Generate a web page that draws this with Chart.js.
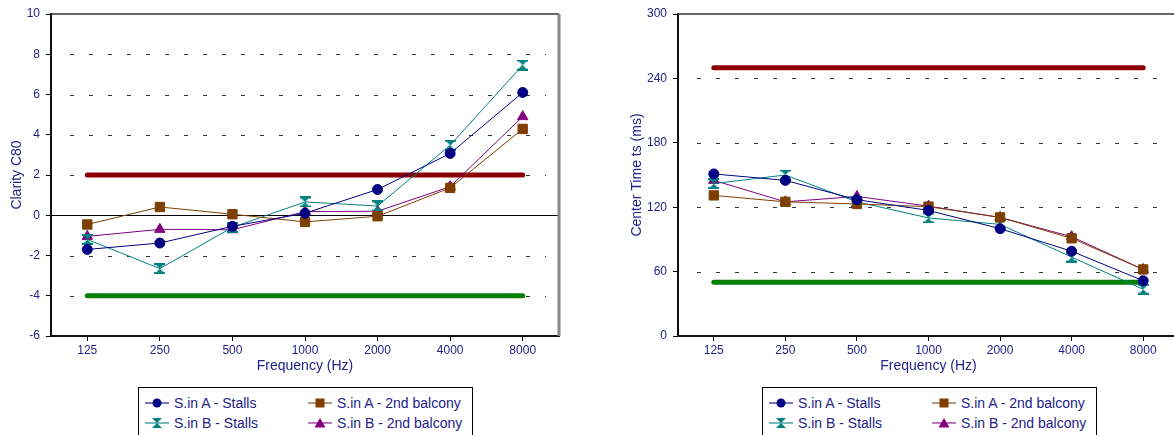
<!DOCTYPE html>
<html>
<head>
<meta charset="utf-8">
<script src="https://cdn.jsdelivr.net/npm/chart.js@4.4.1/dist/chart.umd.min.js"></script>
<style>
  html, body { margin: 0; padding: 0; background: #fff; }
  body { width: 1174px; height: 435px; overflow: hidden; position: relative; font-family: "Liberation Sans", Arial, sans-serif; }
  .chart-box { position: absolute; top: 0; width: 575px; height: 375px; }
  .legend { position: absolute; top: 387px; width: 333px; height: 60px; border: 1px solid #000; background: #fff; }
  .legend-item { position: absolute; height: 20px; display: flex; align-items: center; font-size: 14px; color: #22228a; white-space: nowrap; }
  .legend-item svg { margin-right: 5px; }
</style>
</head>
<body>
<div class="chart-box" style="left:0px"><canvas id="c80-chart"></canvas></div>
<div class="chart-box" style="left:620px"><canvas id="ts-chart"></canvas></div>
<div class="legend" id="c80-legend" style="left:138px"></div>
<div class="legend" id="ts-legend" style="left:762px"></div>
<script>
const FREQUENCIES = ["125", "250", "500", "1000", "2000", "4000", "8000"];

const SERIES_NAMES = [
  "S.in A - Stalls",
  "S.in A - 2nd balcony",
  "S.in B - Stalls",
  "S.in B - 2nd balcony",
];

// Clarity C80 (dB)
const C80_A_STALLS = [-1.7, -1.38, -0.55, 0.1, 1.28, 3.07, 6.1];
const C80_A_BALCONY = [-0.46, 0.41, 0.05, -0.33, -0.05, 1.36, 4.29];
const C80_B_STALLS = [-1.2, -2.65, -0.6, 0.66, 0.46, 3.48, 7.46];
const C80_B_BALCONY = [-1.05, -0.7, -0.72, 0.18, 0.2, 1.42, 4.9];
const C80_LIMIT_HIGH = [2, 2, 2, 2, 2, 2, 2];
const C80_LIMIT_LOW = [-4, -4, -4, -4, -4, -4, -4];
const C80_AXIS = { min: -6, max: 10, step: 2 };

// Centre time ts (ms)
const TS_A_STALLS = [151, 145, 127, 117, 100, 79, 51.5];
const TS_A_BALCONY = [131, 125, 123, 120.5, 110.5, 91, 62];
const TS_B_STALLS = [142, 150, 125, 110, 104, 73.5, 43.5];
const TS_B_BALCONY = [145, 125, 130, 121, 110.5, 92.5, 62];
const TS_LIMIT_HIGH = [250, 250, 250, 250, 250, 250, 250];
const TS_LIMIT_LOW = [50, 50, 50, 50, 50, 50, 50];
const TS_AXIS = { min: 0, max: 300, step: 60 };

const COLORS = ["#000080", "#7f3f00", "#008080", "#800080"];
const TEXT_COLOR = "#22228a";
const FONT = "'Liberation Sans', Arial, sans-serif";

function makeHourglass(color, size) {
  const canvas = document.createElement("canvas");
  canvas.width = size;
  canvas.height = size;
  const ctx = canvas.getContext("2d");
  ctx.fillStyle = color;
  ctx.beginPath();
  ctx.moveTo(0, 0);
  ctx.lineTo(size, 0);
  ctx.lineTo(size / 2, size / 2);
  ctx.closePath();
  ctx.moveTo(0, size);
  ctx.lineTo(size, size);
  ctx.lineTo(size / 2, size / 2);
  ctx.closePath();
  ctx.fill();
  ctx.fillRect(0, 0, size, 2);
  ctx.fillRect(0, size - 2, size, 2);
  return canvas;
}

const POINT_STYLES = [
  { pointStyle: "circle", pointRadius: 5 },
  { pointStyle: "rect", pointRadius: 6.6 },
  { pointStyle: makeHourglass(COLORS[2], 11), pointRadius: 6 },
  { pointStyle: "triangle", pointRadius: 6 },
];

const frameAndGridPlugin = {
  id: "frameAndGrid",
  beforeDatasetsDraw(chart) {
    const { ctx, chartArea } = chart;
    const yScale = chart.scales.y;
    ctx.save();
    for (const tick of yScale.ticks) {
      const value = tick.value;
      if (value === yScale.min || value === yScale.max) {
        continue;
      }
      const py = Math.round(yScale.getPixelForValue(value)) + 0.5;
      ctx.beginPath();
      if (value === 0) {
        ctx.setLineDash([]);
        ctx.strokeStyle = "#000";
        ctx.lineWidth = 1;
        ctx.moveTo(chartArea.left, py);
        ctx.lineTo(chartArea.right, py);
      } else {
        ctx.setLineDash([4, 15]);
        ctx.strokeStyle = "#333";
        ctx.lineWidth = 1;
        ctx.moveTo(chartArea.left + 19, py);
        ctx.lineTo(chartArea.right - 13, py);
      }
      ctx.stroke();
    }
    ctx.setLineDash([]);
    ctx.strokeStyle = "#333";
    ctx.lineWidth = 1.5;
    ctx.beginPath();
    ctx.moveTo(chartArea.left, chartArea.top);
    ctx.lineTo(chartArea.right, chartArea.top);
    ctx.stroke();
    ctx.strokeStyle = "#888";
    ctx.lineWidth = 3;
    ctx.beginPath();
    ctx.moveTo(chartArea.right, chartArea.top);
    ctx.lineTo(chartArea.right, chartArea.bottom);
    ctx.stroke();
    ctx.restore();
  },
};

function seriesDataset(index, values) {
  return {
    label: SERIES_NAMES[index],
    data: values,
    borderColor: COLORS[index],
    backgroundColor: COLORS[index],
    pointBackgroundColor: COLORS[index],
    pointBorderColor: COLORS[index],
    pointBorderWidth: 1,
    borderWidth: 1,
    tension: 0,
    ...POINT_STYLES[index],
  };
}

function limitDataset(values, color) {
  return {
    label: "",
    data: values,
    borderColor: color,
    backgroundColor: color,
    borderWidth: 5,
    borderCapStyle: "round",
    pointRadius: 0,
    tension: 0,
  };
}

function buildChart(canvasId, yTitle, axis, seriesList, limitHigh, limitLow, yWidth) {
  return new Chart(document.getElementById(canvasId), {
    type: "line",
    data: {
      labels: FREQUENCIES,
      datasets: [
        ...seriesList.map((values, i) => seriesDataset(i, values)),
        limitDataset(limitHigh, "#8b0000"),
        limitDataset(limitLow, "#008000"),
      ],
    },
    options: {
      responsive: true,
      maintainAspectRatio: false,
      animation: false,
      layout: { padding: { top: 14, right: 16, bottom: 0, left: 0 } },
      plugins: { legend: { display: false }, tooltip: { enabled: false } },
      scales: {
        x: {
          type: "category",
          offset: true,
          afterFit: (scale) => { scale.height = 39; },
          grid: { offset: false, drawOnChartArea: false, drawTicks: true, tickLength: 5, color: "#000" },
          border: { display: true, color: "#111", width: 2 },
          ticks: { color: TEXT_COLOR, font: { family: FONT, size: 12 }, padding: 2, maxRotation: 0 },
          title: { display: true, text: "Frequency (Hz)", color: TEXT_COLOR, font: { family: FONT, size: 14 }, padding: { top: 0, bottom: 0 } },
        },
        y: {
          min: axis.min,
          max: axis.max,
          afterFit: (scale) => { scale.width = yWidth; },
          grid: { drawOnChartArea: false, drawTicks: true, tickLength: 5, color: "#000" },
          border: { display: true, color: "#111", width: 2 },
          ticks: { stepSize: axis.step, color: TEXT_COLOR, font: { family: FONT, size: 12 }, padding: 6 },
          title: { display: true, text: yTitle, color: TEXT_COLOR, font: { family: FONT, size: 14 }, padding: { top: 8.6, bottom: 0 } },
        },
      },
    },
    plugins: [frameAndGridPlugin],
  });
}

function markerSvg(index) {
  const color = COLORS[index];
  let shape = "";
  if (index === 0) {
    shape = `<circle cx="12" cy="6" r="4.5" fill="${color}"/>`;
  } else if (index === 1) {
    shape = `<rect x="7.5" y="1.5" width="9" height="9" fill="${color}"/>`;
  } else if (index === 2) {
    shape = `<polygon points="7,1 17,1 12,6 17,11 7,11 12,6" fill="${color}"/>`;
  } else {
    shape = `<polygon points="12,1 17.5,10.5 6.5,10.5" fill="${color}"/>`;
  }
  return `<svg width="24" height="12" viewBox="0 0 24 12"><line x1="0" y1="6" x2="24" y2="6" stroke="${color}" stroke-width="1.5" opacity="0.7"/>${shape}</svg>`;
}

function renderLegend(elId) {
  const el = document.getElementById(elId);
  const positions = [
    { left: 6, top: 5 },
    { left: 169, top: 5 },
    { left: 6, top: 25 },
    { left: 169, top: 25 },
  ];
  el.innerHTML = SERIES_NAMES.map((name, i) => `
    <div class="legend-item" style="left:${positions[i].left}px;top:${positions[i].top}px">
      ${markerSvg(i)}<span>${name}</span>
    </div>`).join("");
}

buildChart(
  "c80-chart",
  "Clarity C80",
  C80_AXIS,
  [C80_A_STALLS, C80_A_BALCONY, C80_B_STALLS, C80_B_BALCONY],
  C80_LIMIT_HIGH,
  C80_LIMIT_LOW,
  51
);

buildChart(
  "ts-chart",
  "Center Time ts (ms)",
  TS_AXIS,
  [TS_A_STALLS, TS_A_BALCONY, TS_B_STALLS, TS_B_BALCONY],
  TS_LIMIT_HIGH,
  TS_LIMIT_LOW,
  58
);

renderLegend("c80-legend");
renderLegend("ts-legend");
</script>
</body>
</html>
